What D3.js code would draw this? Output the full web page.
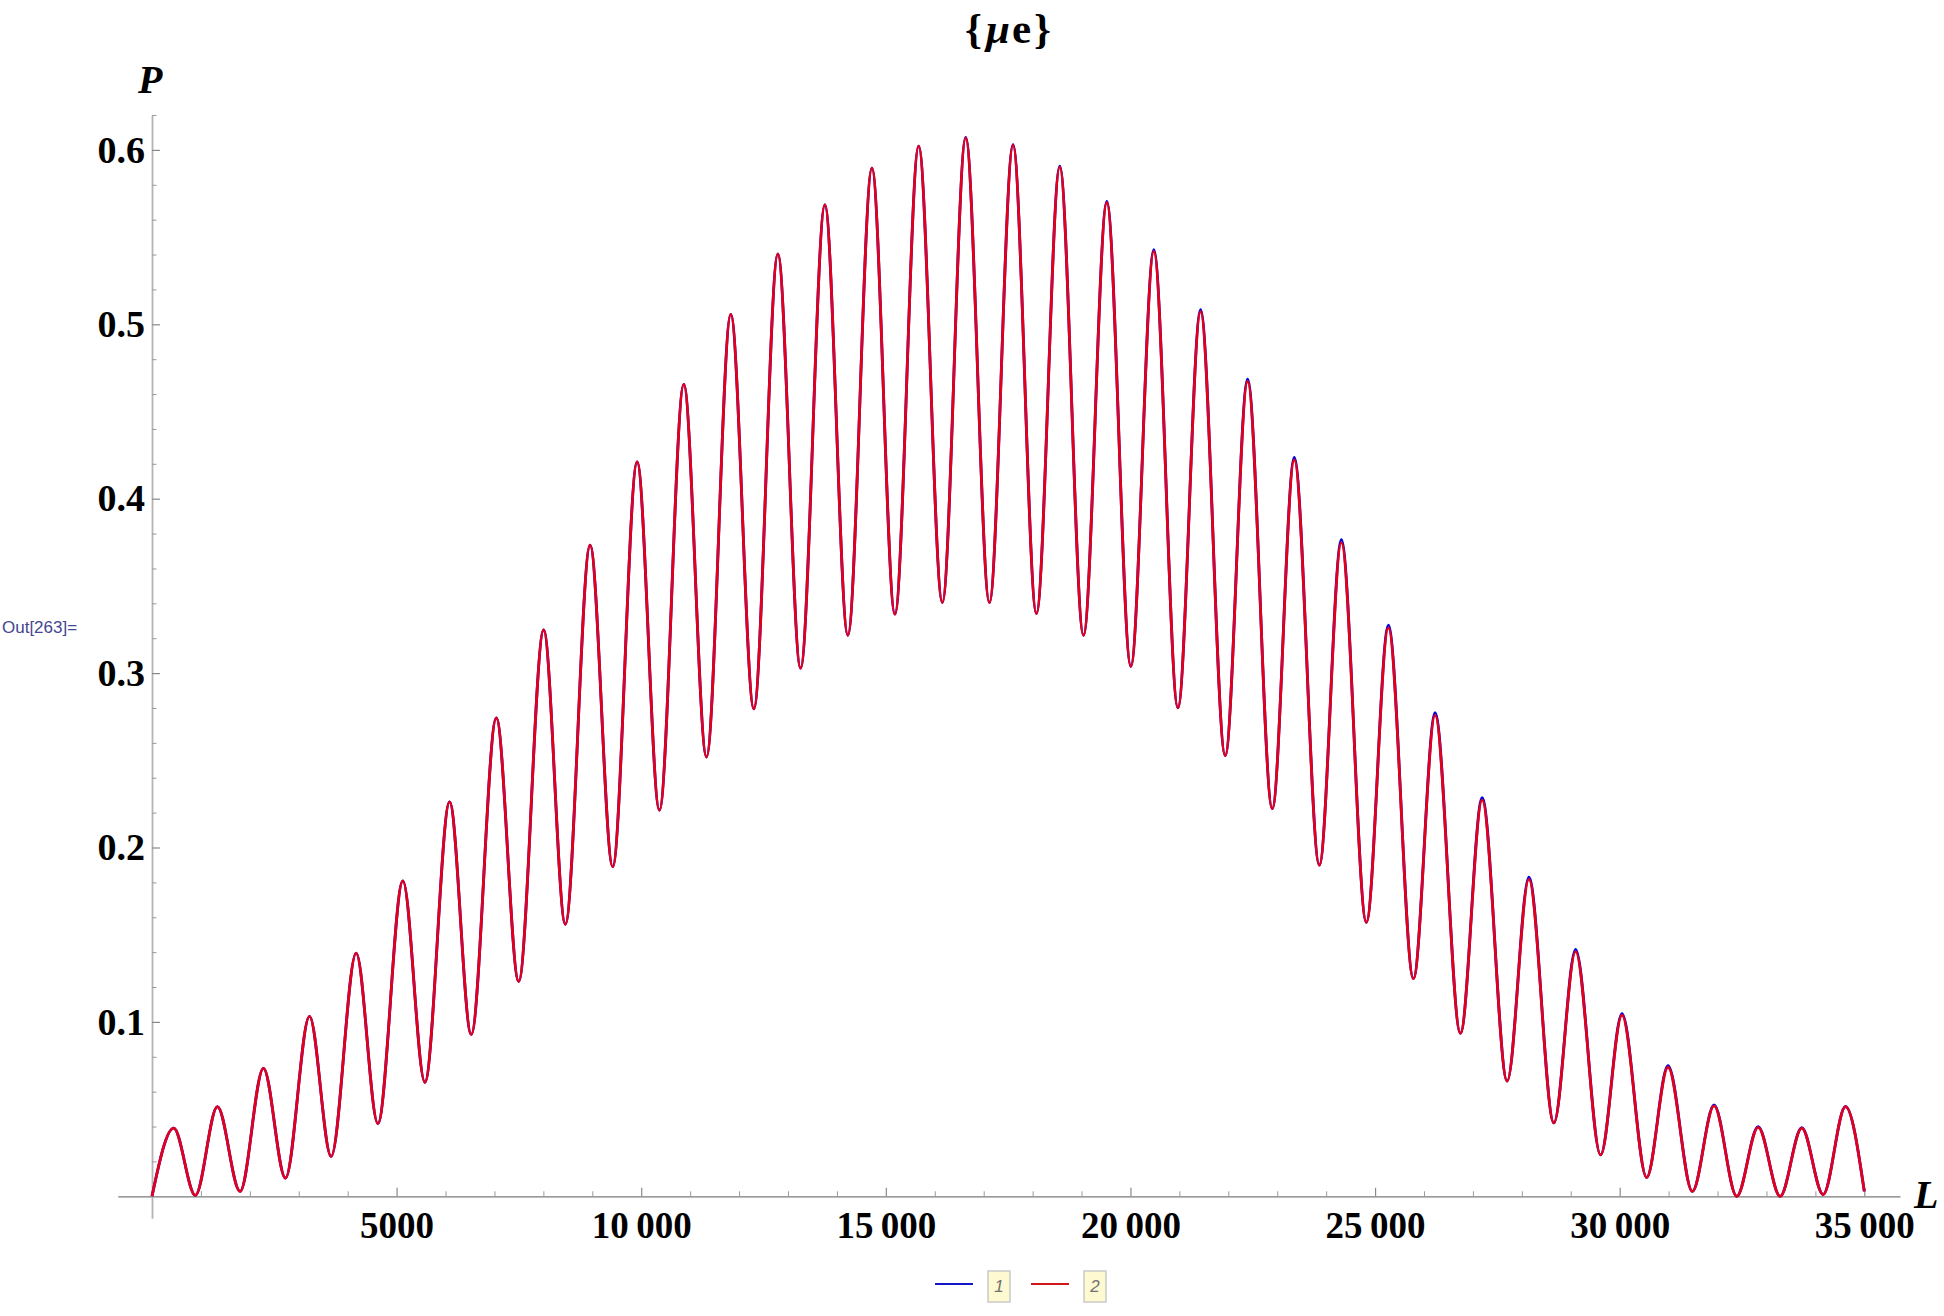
<!DOCTYPE html>
<html>
<head>
<meta charset="utf-8">
<script src="https://cdn.jsdelivr.net/npm/d3@7"></script>
<style>
  html, body { margin: 0; padding: 0; background: #ffffff; }
  svg { display: block; }
</style>
</head>
<body>
<div id="chart"></div>
<script>
// ---------------- data ----------------
const chartTitle = "{μe}";
const xAxisLabel = "L";
const yAxisLabel = "P";
const outLabel = "Out[263]=";
const legendLabels = ["1", "2"];

// L positions of the curve's start, its local extrema and its end
const extremaL = [
  0, 444, 886, 1337, 1800, 2278, 2728, 3219, 3662, 4173, 4617, 5128, 5578, 6083, 6526,
  7038, 7495, 8006, 8449, 8955, 9417, 9916, 10372, 10870, 11334, 11831, 12302, 12793,
  13257, 13754, 14223, 14716, 15185, 15671, 16155, 16633, 17117, 17600, 18078, 18555,
  19040, 19517, 20008, 20478, 20970, 21433, 21937, 22395, 22899, 23349, 23861, 24311,
  24822, 25272, 25784, 26227, 26745, 27189, 27700, 28144, 28655, 29099, 29610, 30047,
  30551, 30988, 31486, 31929, 32393, 32830, 33280, 33722, 34159, 34615, 35000
];
// series 1 (blue)
const series1P = [
  0.0000, 0.0391, 0.0005, 0.0514, 0.0028, 0.0734, 0.0104, 0.1032, 0.0229, 0.1394, 0.0417,
  0.1809, 0.0654, 0.2262, 0.0928, 0.2743, 0.1232, 0.3247, 0.1560, 0.3734, 0.1890, 0.4211,
  0.2214, 0.4655, 0.2519, 0.5057, 0.2795, 0.5404, 0.3028, 0.5685, 0.3217, 0.5895, 0.3338,
  0.6022, 0.3405, 0.6071, 0.3405, 0.6030, 0.3342, 0.5907, 0.3217, 0.5705, 0.3039, 0.5428,
  0.2801, 0.5084, 0.2527, 0.4686, 0.2223, 0.4237, 0.1899, 0.3765, 0.1571, 0.3275, 0.1248,
  0.2773, 0.0935, 0.2286, 0.0661, 0.1830, 0.0421, 0.1415, 0.0237, 0.1048, 0.0108, 0.0749,
  0.0028, 0.0524, 0.0000, 0.0399, 0.0000, 0.0393, 0.0010, 0.0515, 0.0028
];
// series 2 (red)
const series2P = [
  0.0000, 0.0391, 0.0005, 0.0514, 0.0028, 0.0734, 0.0104, 0.1032, 0.0229, 0.1394, 0.0417,
  0.1809, 0.0654, 0.2262, 0.0928, 0.2743, 0.1232, 0.3247, 0.1560, 0.3734, 0.1890, 0.4211,
  0.2214, 0.4655, 0.2519, 0.5057, 0.2795, 0.5404, 0.3028, 0.5685, 0.3217, 0.5895, 0.3338,
  0.6022, 0.3405, 0.6069, 0.3405, 0.6026, 0.3342, 0.5901, 0.3217, 0.5697, 0.3039, 0.5418,
  0.2801, 0.5072, 0.2527, 0.4672, 0.2223, 0.4222, 0.1899, 0.3748, 0.1571, 0.3259, 0.1248,
  0.2758, 0.0935, 0.2272, 0.0661, 0.1817, 0.0421, 0.1403, 0.0237, 0.1038, 0.0108, 0.0740,
  0.0028, 0.0518, 0.0000, 0.0395, 0.0000, 0.0391, 0.0010, 0.0514, 0.0028
];

const xMajorTicks = [5000, 10000, 15000, 20000, 25000, 30000, 35000];
const xMinorTicks = [1000, 2000, 3000, 4000, 6000, 7000, 8000, 9000, 11000, 12000, 13000, 14000,
  16000, 17000, 18000, 19000, 21000, 22000, 23000, 24000, 26000, 27000, 28000, 29000,
  31000, 32000, 33000, 34000];
const xTickLabels = ["5000", "10\u2009000", "15\u2009000", "20\u2009000", "25\u2009000", "30\u2009000", "35\u2009000"];
const yMajorTicks = [0.1, 0.2, 0.3, 0.4, 0.5, 0.6];
const yMinorTicks = [0.02, 0.04, 0.06, 0.08, 0.12, 0.14, 0.16, 0.18, 0.22, 0.24, 0.26, 0.28,
  0.32, 0.34, 0.36, 0.38, 0.42, 0.44, 0.46, 0.48, 0.52, 0.54, 0.56, 0.58, 0.62];
const yTickLabels = ["0.1", "0.2", "0.3", "0.4", "0.5", "0.6"];

// ---------------- drawing ----------------
const W = 1944, H = 1316;
const svg = d3.select("#chart").append("svg").attr("width", W).attr("height", H);

const x = d3.scaleLinear().domain([0, 35000]).range([152, 1864.3]);
const y = d3.scaleLinear().domain([0, 0.6]).range([1196.3, 149.9]);

// axes extend a little beyond the data range, as in the reference
const xAx = d3.scaleLinear().domain([-700, 35730]);
xAx.range([x(-700), x(35730)]);
const yAx = d3.scaleLinear().domain([-0.0126, 0.62]);
yAx.range([y(-0.0126), y(0.62)]);

const serif = "'Liberation Serif', 'Times New Roman', serif";

// x axis: minor ticks + line
const gxMinor = svg.append("g").attr("transform", `translate(0,${y(0)})`)
  .call(d3.axisBottom(xAx).tickValues(xMinorTicks).tickSizeInner(-5).tickSizeOuter(0).tickFormat(""));
gxMinor.select(".domain").attr("stroke", "#7a7a7a").attr("stroke-width", 1.2);
gxMinor.selectAll(".tick line").attr("stroke", "#9a9a9a").attr("stroke-width", 1);

const gxMajor = svg.append("g").attr("transform", `translate(0,${y(0)})`)
  .call(d3.axisBottom(xAx).tickValues(xMajorTicks).tickSizeInner(-8.5).tickSizeOuter(0)
    .tickPadding(15).tickFormat((d, i) => xTickLabels[i]));
gxMajor.select(".domain").remove();
gxMajor.selectAll(".tick line").attr("stroke", "#8a8a8a").attr("stroke-width", 1.2);
gxMajor.selectAll(".tick text").attr("fill", "#000").style("font-family", serif)
  .style("font-weight", "bold").style("font-size", "37px");

// y axis
const gyMinor = svg.append("g").attr("transform", `translate(${x(0)},0)`)
  .call(d3.axisLeft(yAx).tickValues(yMinorTicks).tickSizeInner(-4.5).tickSizeOuter(0).tickFormat(""));
gyMinor.select(".domain").attr("stroke", "#b4b4b4").attr("stroke-width", 1.8);
gyMinor.selectAll(".tick line").attr("stroke", "#9a9a9a").attr("stroke-width", 1);

const gyMajor = svg.append("g").attr("transform", `translate(${x(0)},0)`)
  .call(d3.axisLeft(yAx).tickValues(yMajorTicks).tickSizeInner(-8).tickSizeOuter(0)
    .tickPadding(7).tickFormat((d, i) => yTickLabels[i]));
gyMajor.select(".domain").remove();
gyMajor.selectAll(".tick line").attr("stroke", "#8a8a8a").attr("stroke-width", 1.2);
gyMajor.selectAll(".tick text").attr("fill", "#000").style("font-family", serif)
  .style("font-weight", "bold").style("font-size", "38px");

// curves
const data1 = extremaL.map((L, i) => ({ L, P: series1P[i] }));
const data2 = extremaL.map((L, i) => ({ L, P: series2P[i] }));
const line = d3.line().x(d => x(d.L)).y(d => y(d.P)).curve(d3.curveMonotoneX);

svg.append("path").datum(data1).attr("d", line)
  .attr("fill", "none").attr("stroke", "#0000e0").attr("stroke-width", 2.8)
  .attr("stroke-linejoin", "round");
svg.append("path").datum(data2).attr("d", line)
  .attr("fill", "none").attr("stroke", "#e2001a").attr("stroke-width", 2.8)
  .attr("stroke-linejoin", "round");

// axis labels
svg.append("text").attr("x", 138).attr("y", 93).text(yAxisLabel)
  .style("font-family", serif).style("font-weight", "bold").style("font-style", "italic")
  .style("font-size", "40px").attr("fill", "#000");
svg.append("text").attr("x", 1914).attr("y", 1208).text(xAxisLabel)
  .style("font-family", serif).style("font-weight", "bold").style("font-style", "italic")
  .style("font-size", "40px").attr("fill", "#000");

// title  {μe}
const t = svg.append("text").attr("x", 1008).attr("y", 43).attr("text-anchor", "middle")
  .style("font-family", serif).style("font-weight", "bold").style("font-size", "43px").attr("fill", "#000");
const titleChars = Array.from(chartTitle);
titleChars.forEach(ch => {
  const ts = t.append("tspan").text(ch);
  if (ch === "μ") ts.style("font-style", "italic").attr("dx", 4);
  if (ch === "e") ts.attr("dx", 2);
  if (ch === "}") ts.attr("dx", 3);
});

// Out label
svg.append("text").attr("x", 2).attr("y", 633).text(outLabel)
  .style("font-family", "'Liberation Sans', Arial, sans-serif").style("font-size", "17px")
  .attr("fill", "#454592");

// legend
const legendColors = ["#1515c8", "#d01818"];
const legendX = [935, 1031];
const lg = svg.append("g");
legendLabels.forEach((lab, i) => {
  const x0 = legendX[i];
  lg.append("line").attr("x1", x0).attr("x2", x0 + 38).attr("y1", 1284).attr("y2", 1284)
    .attr("stroke", legendColors[i]).attr("stroke-width", 2);
  lg.append("rect").attr("x", x0 + 53).attr("y", 1271).attr("width", 22).attr("height", 31)
    .attr("fill", "#fff9d2").attr("stroke", "#cacaca").attr("stroke-width", 1.5);
  lg.append("text").attr("x", x0 + 64).attr("y", 1292).attr("text-anchor", "middle").text(lab)
    .style("font-family", "'Liberation Sans', Arial, sans-serif").style("font-style", "italic")
    .style("font-size", "17px").attr("fill", "#707070");
});
</script>
</body>
</html>
